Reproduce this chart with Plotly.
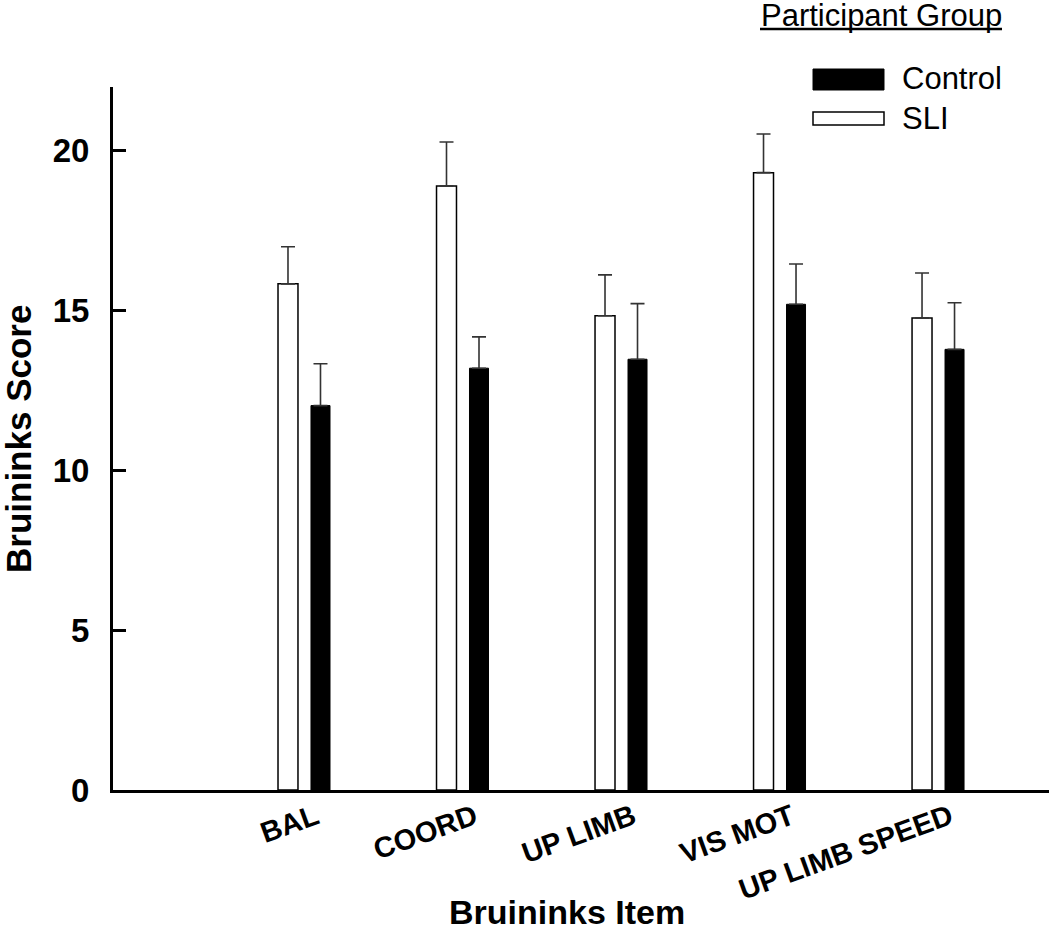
import plotly.graph_objects as go

categories = ["BAL", "COORD", "UP LIMB", "VIS MOT", "UP LIMB SPEED"]
sli_values = [15.84, 18.90, 14.84, 19.32, 14.77]
sli_errors = [1.16, 1.38, 1.28, 1.21, 1.41]
control_values = [12.03, 13.20, 13.48, 15.20, 13.79]
control_errors = [1.31, 0.98, 1.74, 1.26, 1.46]
y_ticks = [0, 5, 10, 15, 20]

FONT = "Liberation Sans, Arial, sans-serif"
W, H = 1050, 930
L, R, T, B = 113, 1, 87, 140
PW, PH = W - L - R, H - T - B


def px(x):
    return (x - L) / PW


def py(y):
    return (H - B - y) / PH


fig = go.Figure()
fig.add_trace(go.Bar(
    x=categories, y=sli_values, name="SLI",
    width=0.126, offset=-0.164,
    marker=dict(color="white", line=dict(color="black", width=1.5)),
    error_y=dict(type="data", array=sli_errors, arrayminus=[0] * len(sli_errors),
                 symmetric=False, color="#333333", thickness=1.6, width=7),
))
fig.add_trace(go.Bar(
    x=categories, y=control_values, name="Control",
    width=0.12, offset=0.044,
    marker=dict(color="black", line=dict(color="black", width=1.0)),
    error_y=dict(type="data", array=control_errors, arrayminus=[0] * len(control_errors),
                 symmetric=False, color="#333333", thickness=1.6, width=7),
))

shapes = [
    # legend header underline
    dict(type="line", xref="paper", yref="paper", x0=px(760), x1=px(1002),
         y0=py(29), y1=py(29), line=dict(color="black", width=2.5)),
    # legend swatches
    dict(type="rect", xref="paper", yref="paper", x0=px(813), x1=px(884),
         y0=py(90), y1=py(69), fillcolor="black", line=dict(color="black", width=1)),
    dict(type="rect", xref="paper", yref="paper", x0=px(813), x1=px(884),
         y0=py(125), y1=py(112), fillcolor="white", line=dict(color="black", width=1.5)),
]

annotations = [
    dict(text="Participant Group", xref="paper", yref="paper", x=px(759), y=py(16),
         xanchor="left", yanchor="middle", showarrow=False,
         font=dict(family=FONT, size=31, color="black")),
    dict(text="Control", xref="paper", yref="paper", x=px(900), y=py(79),
         xanchor="left", yanchor="middle", showarrow=False,
         font=dict(family=FONT, size=31, color="black")),
    dict(text="SLI", xref="paper", yref="paper", x=px(900), y=py(118),
         xanchor="left", yanchor="middle", showarrow=False,
         font=dict(family=FONT, size=31, color="black")),
    dict(text="<b>Bruininks Score</b>", xref="paper", yref="paper", x=px(18), y=py(439),
         xanchor="center", yanchor="middle", textangle=-90, showarrow=False,
         font=dict(family=FONT, size=35, color="black")),
    dict(text="<b>Bruininks Item</b>", xref="paper", yref="paper", x=px(567), y=py(912),
         xanchor="center", yanchor="middle", showarrow=False,
         font=dict(family=FONT, size=34, color="black")),
]

fig.update_layout(
    width=W, height=H,
    margin=dict(l=L, r=R, t=T, b=B, pad=0),
    paper_bgcolor="white", plot_bgcolor="white",
    barmode="overlay", showlegend=False,
    shapes=shapes, annotations=annotations,
    font=dict(family=FONT, color="black"),
)
fig.update_xaxes(
    type="category", range=[-1.205, 4.70],
    showline=True, linecolor="black", linewidth=3, mirror=False,
    showgrid=False, zeroline=False, ticks="",
    tickangle=-20, ticklabelshift=12, ticklabelstandoff=-4,
    tickfont=dict(family=FONT, size=29, color="black", weight="bold"),
)
fig.update_yaxes(
    range=[0, 22], tickvals=y_ticks, ticktext=[str(v) for v in y_ticks],
    showline=True, linecolor="black", linewidth=3,
    showgrid=False, zeroline=False,
    ticks="inside", ticklen=13, tickwidth=2.5, tickcolor="black",
    ticklabelstandoff=14,
    tickfont=dict(family=FONT, size=33, color="black", weight="bold"),
)

fig.write_html("out.html", config={"displayModeBar": False},
               post_script="document.body.style.margin='0';document.body.style.padding='0';")
